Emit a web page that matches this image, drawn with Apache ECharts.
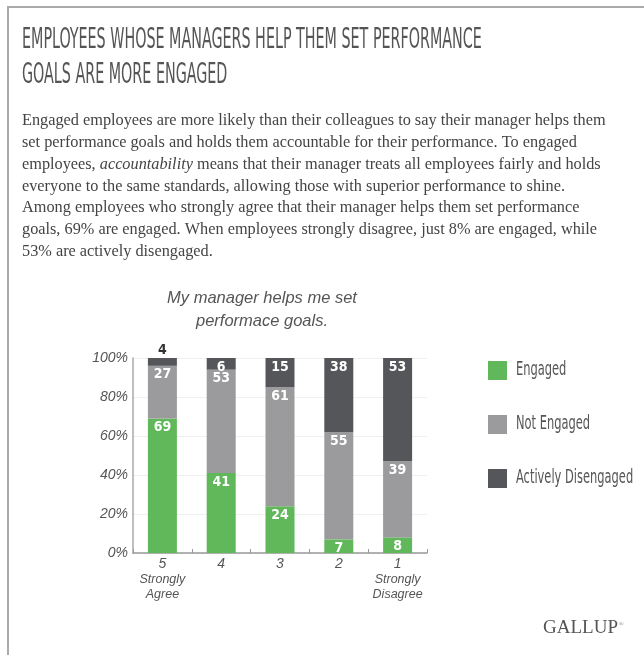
<!DOCTYPE html>
<html>
<head>
<meta charset="utf-8">
<script src="https://cdn.jsdelivr.net/npm/echarts@6/dist/echarts.min.js"></script>
<style>
html, body { margin: 0; padding: 0; background: #fff; }
#chart { width: 644px; height: 655px; }
</style>
</head>
<body>
<div id="chart"></div>
<script>
var categories = ['5', '4', '3', '2', '1'];
var subLabels = ['Strongly\nAgree', '', '', '', 'Strongly\nDisagree'];
var seriesNames = ['Engaged', 'Not Engaged', 'Actively Disengaged'];
var engaged = [69, 41, 24, 7, 8];
var notEngaged = [27, 53, 61, 55, 39];
var activelyDisengaged = [4, 6, 15, 38, 53];
var yTicks = [0, 20, 40, 60, 80, 100];

var narrow = '"DejaVu Sans Condensed", sans-serif';
var serif = '"Liberation Serif", "DejaVu Serif", serif';

var bodyLines = [
	'Engaged employees are more likely than their colleagues to say their manager helps them',
	'set performance goals and holds them accountable for their performance. To engaged',
	'employees, {i|accountability} means that their manager treats all employees fairly and holds',
	'everyone to the same standards, allowing those with superior performance to shine.',
	'Among employees who strongly agree that their manager helps them set performance',
	'goals, 69% are engaged. When employees strongly disagree, just 8% are engaged, while',
	'53% are actively disengaged.'
];

var barLabel = {
	show : true,
	position : 'insideTop',
	distance : 2,
	color : '#fff',
	fontFamily : narrow,
	fontWeight : 'bold',
	fontSize : 14
};

var myChart = echarts.init(document.getElementById('chart'));

// first disengaged value sits above the bar in the picture
var disData = activelyDisengaged.map(function(v, i) {
	if (i == 0) {
		return { value : v, label : { position : 'top', color : '#333', distance : 1 } };
	}
	return v;
});

// legend labels are drawn squeezed next to the legend squares
var legendTexts = seriesNames.map(function(n, i) {
	return {
		type : 'text',
		x : 516,
		y : 370 + i * 54,
		scaleX : 0.67,
		style : {
			text : n,
			fill : '#555',
			font : '19px ' + narrow,
			verticalAlign : 'middle'
		}
	};
});

myChart.setOption({
	animation : false,
	backgroundColor : '#fff',
	grid : {
		left : 133,
		right : 217,
		top : 358,
		bottom : 102
	},
	legend : {
		orient : 'vertical',
		left : 483,
		top : 356,
		itemWidth : 19,
		itemHeight : 19,
		itemGap : 35,
		icon : 'rect',
		formatter : function() { return ''; },
		data : seriesNames
	},
	xAxis : {
		type : 'category',
		data : categories,
		axisLine : { lineStyle : { color : '#999', width : 1.5 } },
		axisTick : { show : true, inside : true, length : 4, lineStyle : { color : '#999' } },
		axisLabel : {
			margin : 4,
			interval : 0,
			formatter : function(v, i) {
				var s = '{n|' + v + '}';
				if (subLabels[i]) {
					s += '\n{s|' + subLabels[i].split('\n').join('}\n{s|') + '}';
				}
				return s;
			},
			rich : {
				n : { fontSize : 14, fontStyle : 'italic', color : '#555', lineHeight : 15, fontFamily : 'Liberation Sans' },
				s : { fontSize : 12.5, fontStyle : 'italic', color : '#555', lineHeight : 15, fontFamily : 'Liberation Sans' }
			}
		}
	},
	yAxis : {
		type : 'value',
		min : 0,
		max : 100,
		interval : 20,
		axisLine : { show : true, lineStyle : { color : '#aaa', width : 1.5 } },
		axisTick : { show : false },
		splitLine : { lineStyle : { color : '#f0f0f0' } },
		axisLabel : {
			margin : 5,
			color : '#555',
			fontStyle : 'italic',
			fontSize : 14,
			fontFamily : 'Liberation Sans',
			formatter : function(v) {
				return yTicks.indexOf(v) >= 0 ? v + '%' : '';
			}
		}
	},
	series : [ {
		name : seriesNames[0],
		type : 'bar',
		stack : 'all',
		barWidth : 29,
		itemStyle : { color : '#60b85a' },
		label : barLabel,
		data : engaged
	}, {
		name : seriesNames[1],
		type : 'bar',
		stack : 'all',
		barWidth : 29,
		itemStyle : { color : '#9b9b9d' },
		label : barLabel,
		data : notEngaged
	}, {
		name : seriesNames[2],
		type : 'bar',
		stack : 'all',
		barWidth : 29,
		itemStyle : { color : '#55565a' },
		label : barLabel,
		data : disData
	} ],
	graphic : [ {
		type : 'rect',
		shape : { x : 8, y : 7, width : 700, height : 700 },
		style : { fill : 'none', stroke : '#aaa', lineWidth : 2 },
		silent : true
	}, {
		type : 'text',
		left : 22,
		top : 23,
		scaleX : 0.568,
		style : {
			text : 'EMPLOYEES WHOSE MANAGERS HELP THEM SET PERFORMANCE\nGOALS ARE MORE ENGAGED',
			fill : '#555',
			font : '28px ' + narrow,
			lineHeight : 35
		}
	}, {
		type : 'text',
		left : 22,
		top : 110,
		style : {
			text : bodyLines.join('\n'),
			fill : '#444',
			font : '16.3px ' + serif,
			lineHeight : 21.8,
			rich : {
				i : { fontStyle : 'italic', fontSize : 16.3, fontFamily : serif, fill : '#444' }
			}
		}
	}, {
		type : 'text',
		x : 262,
		y : 287,
		style : {
			text : 'My manager helps me set\nperformace goals.',
			fill : '#555',
			font : 'italic 16.5px "Liberation Sans", Arial, sans-serif',
			lineHeight : 23,
			align : 'center'
		}
	}, {
		type : 'text',
		x : 543,
		y : 619,
		style : {
			text : 'GALLUP',
			fill : '#555',
			font : '19px ' + serif
		}
	}, {
		type : 'text',
		x : 619,
		y : 621,
		style : {
			text : '\u00ae',
			fill : '#777',
			font : '6px ' + serif
		}
	} ].concat(legendTexts)
});
</script>
</body>
</html>
